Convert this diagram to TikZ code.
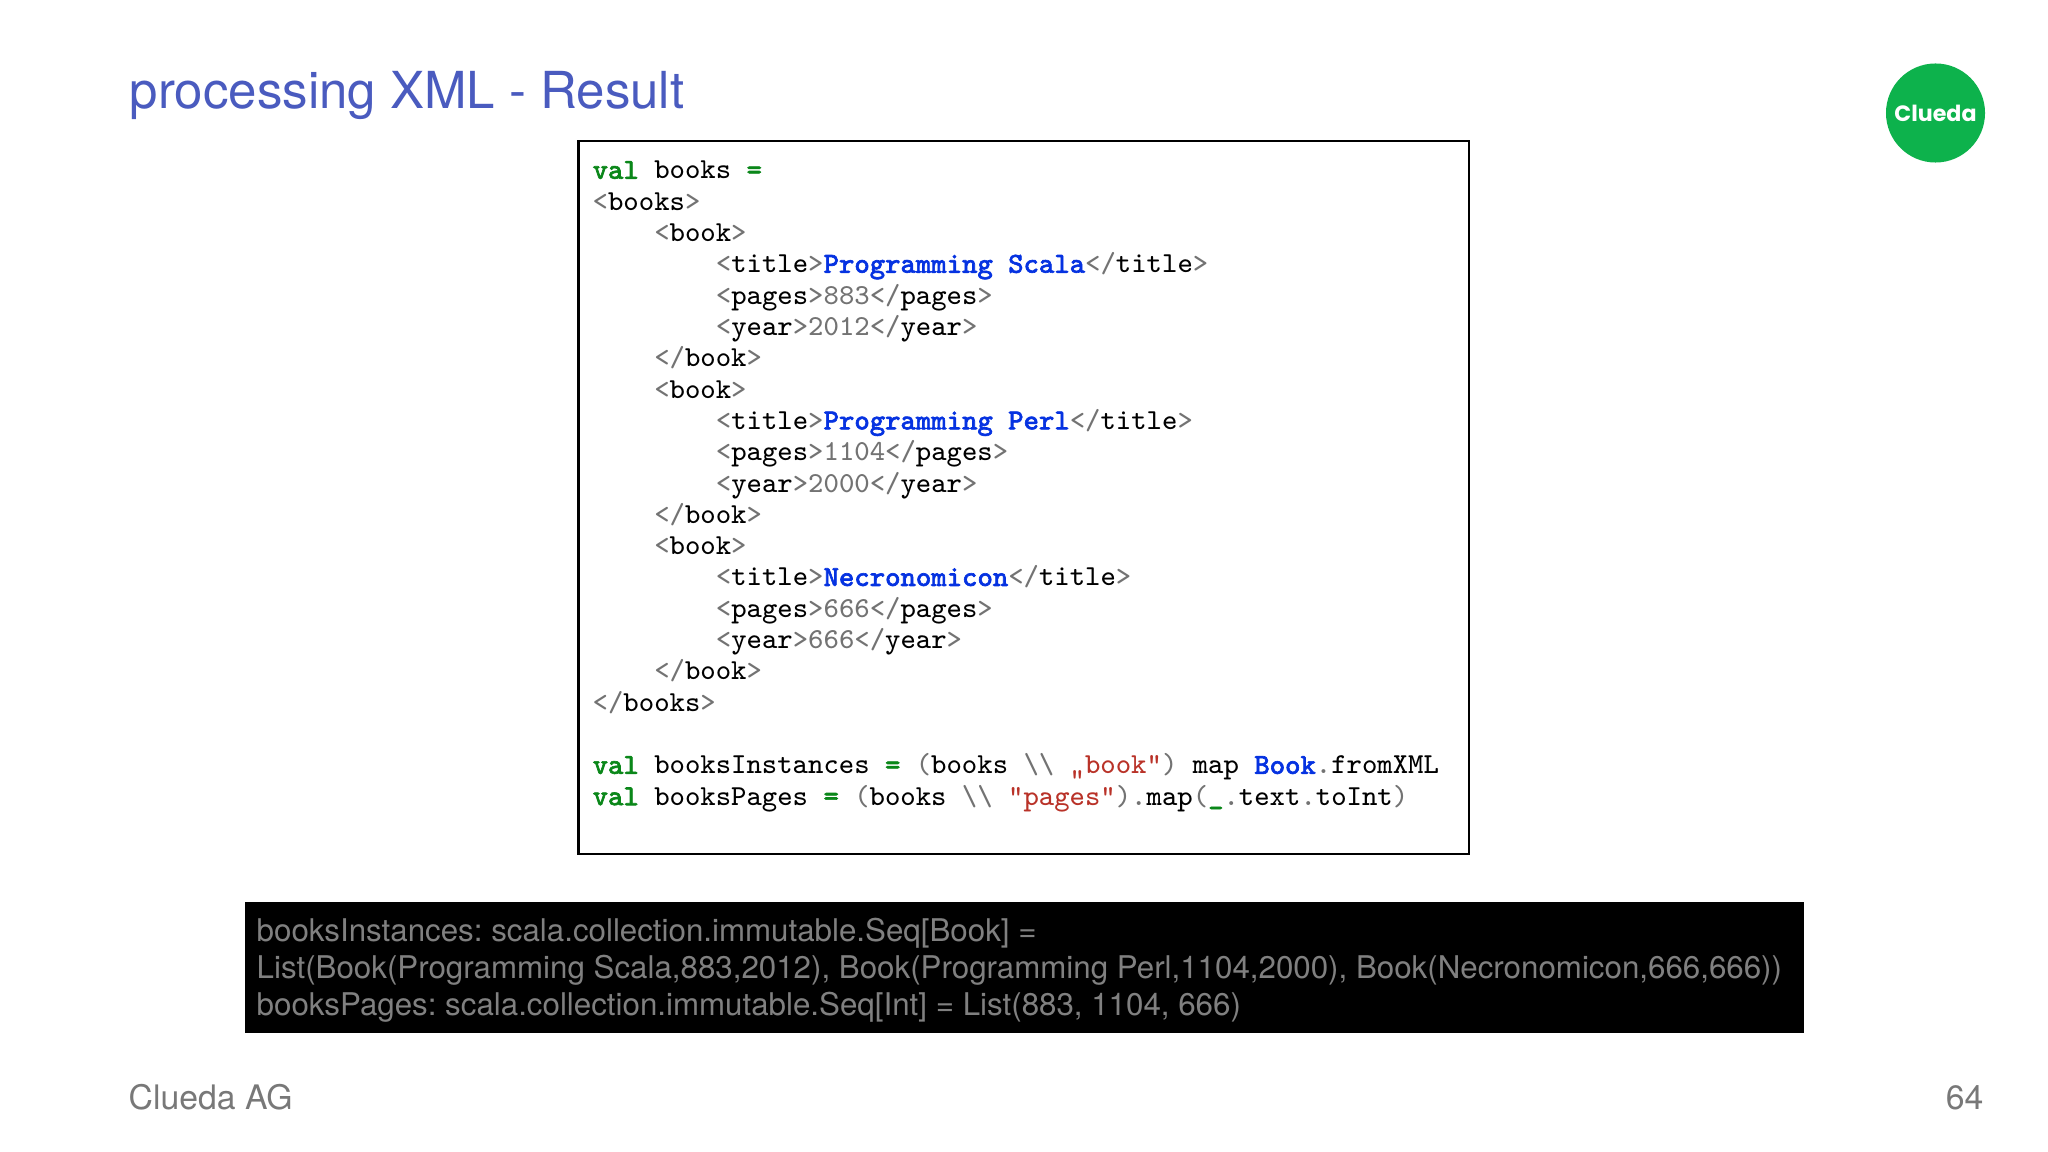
\documentclass[tikz,border=0pt]{standalone}
\usepackage{fontspec}
\setmainfont{TeX Gyre Heros}
\newfontfamily\logofont{Poppins}
\newfontfamily\codebold[FakeBold=2.2]{Latin Modern Mono}
\frenchspacing
\tikzset{
    codeline/.style={anchor=base west, inner sep=0pt, font=\ttfamily\fontsize{8.24}{10}\selectfont, text=black},
    footertext/.style={inner sep=0pt, font=\fontsize{9.6}{11}\selectfont, text=footgray},
    outputline/.style={anchor=base west, inner sep=0pt, font=\fontsize{8.9}{11}\selectfont, text=outgray}
}
\newcommand{\kw}[1]{\textcolor{kwgreen}{\codebold #1}}
\newcommand{\nm}[1]{\textcolor{nmblue}{\codebold #1}}
\newcommand{\st}[1]{\textcolor{stred}{#1}}
\newcommand{\tg}[1]{\textcolor{taggray}{#1}}
\newcommand{\optag}[1]{\tg{<}#1\tg{>}}
\newcommand{\cltag}[1]{\tg{</}#1\tg{>}}
\begin{document}
\begin{tikzpicture}[x=0.01cm,y=-0.01cm]
    % Define colors
    \definecolor{kwgreen}{RGB}{10, 135, 25}
    \definecolor{nmblue}{RGB}{5, 50, 225}
    \definecolor{stred}{RGB}{185, 50, 40}
    \definecolor{taggray}{RGB}{115, 115, 115}
    \definecolor{titleblue}{RGB}{74, 91, 191}
    \definecolor{footgray}{RGB}{120, 120, 120}
    \definecolor{outgray}{RGB}{128, 128, 128}
    \definecolor{logogreen}{RGB}{13, 178, 76}

    % Page
    \path[use as bounding box, fill=white] (0,0) rectangle (2048,1152);

    % Title and logo
    \node[anchor=base west, inner sep=0pt, font=\fontsize{14.5}{17}\selectfont, text=titleblue] (title) at (129,108.5) {processing XML - Result};
    \node[circle, fill=logogreen, minimum size=0.99cm, inner sep=0pt, text=white, font=\logofont\bfseries\fontsize{6.3}{8}\selectfont] (logo) at (1935.5,113) {Clueda};

    % Code box
    \draw[line width=0.8pt, fill=white] (578.5,141) rectangle (1469,854);

    % Code lines: number/indent/text
    \foreach \n/\ind/\txt in {
        1/0/{\kw{val} books \kw{=}},
        2/0/{\optag{books}},
        3/4/{\optag{book}},
        4/8/{\optag{title}\nm{Programming Scala}\cltag{title}},
        5/8/{\optag{pages}\tg{883}\cltag{pages}},
        6/8/{\optag{year}\tg{2012}\cltag{year}},
        7/4/{\cltag{book}},
        8/4/{\optag{book}},
        9/8/{\optag{title}\nm{Programming Perl}\cltag{title}},
        10/8/{\optag{pages}\tg{1104}\cltag{pages}},
        11/8/{\optag{year}\tg{2000}\cltag{year}},
        12/4/{\cltag{book}},
        13/4/{\optag{book}},
        14/8/{\optag{title}\nm{Necronomicon}\cltag{title}},
        15/8/{\optag{pages}\tg{666}\cltag{pages}},
        16/8/{\optag{year}\tg{666}\cltag{year}},
        17/4/{\cltag{book}},
        18/0/{\cltag{books}},
        20/0/{\kw{val} booksInstances \kw{=} \tg{(}books \tg{\textbackslash\textbackslash} \st{„book"}\tg{)} map \nm{Book}\tg{.}fromXML},
        21/0/{\kw{val} booksPages \kw{=} \tg{(}books \tg{\textbackslash\textbackslash} \st{"pages"}\tg{).}map\tg{(}\kw{\_}\tg{.}text\tg{.}toInt\tg{)}}
    } {
        \node[codeline] (code\n) at ({592+15.4*\ind},{178.8+31.32*(\n-1)}) {\txt};
    }

    % Output box
    \fill[black] (244.5,901.5) rectangle (1804,1032.5);
    \node[outputline] (out1) at (256,941) {booksInstances: scala.collection.immutable.Seq[Book] =};
    \node[outputline] (out2) at (256,978) {List(Book(Programming Scala,883,2012), Book(Programming Perl,1104,2000), Book(Necronomicon,666,666))};
    \node[outputline] (out3) at (256,1015) {booksPages: scala.collection.immutable.Seq[Int] = List(883, 1104, 666)};

    % Footer
    \node[footertext, anchor=base west] (company) at (128,1109) {Clueda AG};
    \node[footertext, anchor=base east] (pagenum) at (1984,1109) {64};

\end{tikzpicture}
\end{document}
